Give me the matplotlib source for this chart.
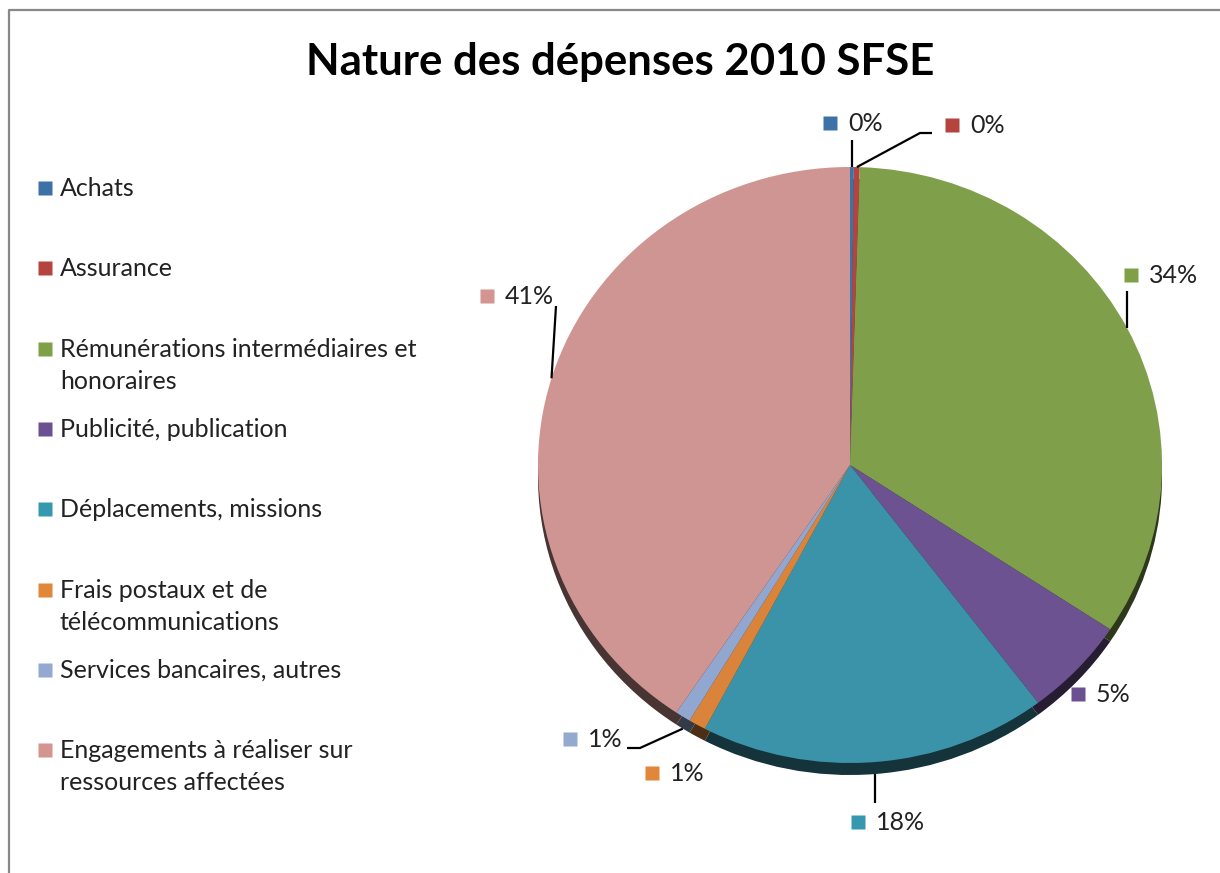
import numpy as np
import matplotlib.pyplot as plt
from matplotlib.lines import Line2D

# data
categories = ["Achats", "Assurance",
              "Rémunérations intermédiaires et\nhonoraires",
              "Publicité, publication", "Déplacements, missions",
              "Frais postaux et de\ntélécommunications",
              "Services bancaires, autres",
              "Engagements à réaliser sur\nressources affectées"]
values = [0.2, 0.3, 33.8, 5.4, 18.0, 0.9, 0.8, 40.6]
colors = ["#3d72a8", "#b5443f", "#809f4a", "#6c5290",
          "#3a93a8", "#d9843a", "#91a7cf", "#cf9592"]
legend_colors = ["#3d72a8", "#b5443f", "#7fa047", "#6b5192",
                 "#3698ae", "#e0873a", "#94a9d0", "#d49591"]

# layout (pixels)
W, H = 1220, 873
cx, cy, rx, ry = 850, 465, 312, 298
shadow = 12
# label: (marker x, marker y), elbow points of leader line (None = no line)
label_pos = [(830, 123), (952, 125), (1131, 275), (1078, 694),
             (858, 822), (652, 773), (570, 739), (487, 296)]
leader = [[(None, 140)], [(920, 133), (932, 133)], [(None, 291)], None,
          [(None, 803)], None, [(640, 748), (627, 748)], [(556, 306)]]
bottom_side = [False, False, False, False, True, False, True, False]

plt.rcParams['font.family'] = ['Lato', 'DejaVu Sans']

fig = plt.figure(figsize=(W / 100, H / 100), dpi=100)
ax = fig.add_axes([0, 0, 1, 1])


def dark(c, f=0.35):
    c = np.array(plt.matplotlib.colors.to_rgb(c))
    return tuple(c * f)


# 3D side of the pie
ax.pie(values, colors=[dark(c) for c in colors], startangle=90,
       counterclock=False, radius=1, center=(0, -shadow / ry),
       wedgeprops=dict(linewidth=0))
ax.pie(values, colors=colors, startangle=90, counterclock=False,
       radius=1, center=(0, 0), wedgeprops=dict(linewidth=0))
ax.set_aspect('auto')
ax.set_xlim((0 - cx) / rx, (W - cx) / rx)
ax.set_ylim((cy - H) / ry, (cy - 0) / ry)
ax.axis('off')


def to_data(px, py):
    return (px - cx) / rx, (cy - py) / ry


# data labels and leader lines
cum = 0
for i, v in enumerate(values):
    mid = np.deg2rad(360 * (cum + v / 2) / 100)
    cum += v
    ex = cx + rx * np.sin(mid)
    ey = cy - ry * np.cos(mid) + (shadow if bottom_side[i] else 0)
    mx, my = label_pos[i]
    if leader[i] is not None:
        pts = [(ex, ey)] + [(ex if p[0] is None else p[0], p[1]) for p in leader[i]]
        xs, ys = zip(*[to_data(*p) for p in pts])
        ax.plot(xs, ys, color="black", lw=1.6, solid_capstyle='butt')
    ax.plot(*to_data(mx, my), marker='s', ms=9.5, color=legend_colors[i],
            mec='none')
    ax.text(*to_data(mx + 18, my + 8), f"{round(v)}%", fontsize=18,
            color="#222222", va='baseline', ha='left')

# legend
for i, name in enumerate(categories):
    y = 188 + i * 80.3
    fig.add_artist(Line2D([45 / W], [1 - y / H], marker='s', ms=10,
                          color=legend_colors[i], mec='none',
                          transform=fig.transFigure))
    for j, line in enumerate(name.split("\n")):
        fig.text(60 / W, 1 - (y + 8 + j * 32) / H, line, fontsize=18,
                 color="#222222", va='baseline', ha='left')

fig.text(620 / W, 1 - 62 / H, "Nature des dépenses 2010 SFSE",
         fontsize=31.5, fontweight='bold', ha='center', va='center',
         color="black")

# chart border (left and top)
fig.add_artist(Line2D([9 / W, 9 / W, 1], [0, 1 - 10 / H, 1 - 10 / H],
                      color="#888888", lw=1.6, transform=fig.transFigure))

fig.savefig("out.png", dpi=100, facecolor="white")
